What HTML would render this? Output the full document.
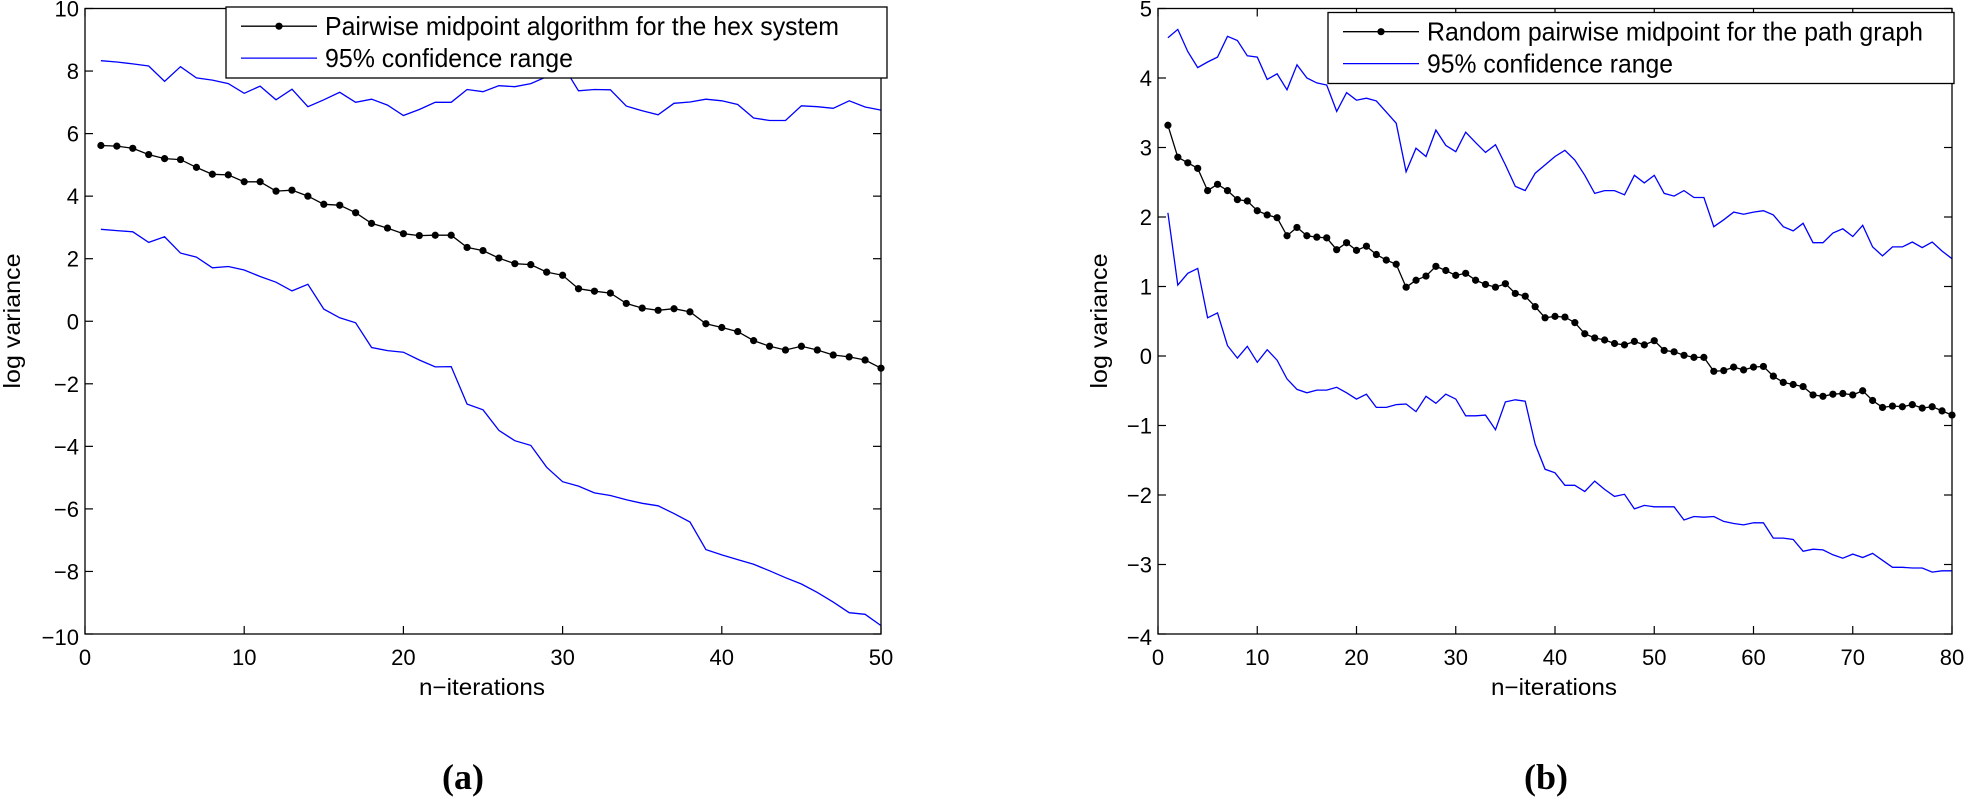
<!DOCTYPE html>
<html><head><meta charset="utf-8"><style>
html,body{margin:0;padding:0;background:#fff;}
svg{display:block;}
text{font-family:"Liberation Sans",sans-serif;fill:#000;}
</style></head><body>
<svg id="s" width="1965" height="801" xmlns="http://www.w3.org/2000/svg">
<rect width="1965" height="801" fill="#fff"/>
<g id="g"></g>
<text x="482" y="695" font-size="23" text-anchor="middle" textLength="126" lengthAdjust="spacingAndGlyphs">n−iterations</text>
<text x="1554" y="695" font-size="23" text-anchor="middle" textLength="126" lengthAdjust="spacingAndGlyphs">n−iterations</text>
<text transform="translate(20,321) rotate(-90)" font-size="23" text-anchor="middle" textLength="135" lengthAdjust="spacingAndGlyphs">log variance</text>
<text transform="translate(1107,321) rotate(-90)" font-size="23" text-anchor="middle" textLength="135" lengthAdjust="spacingAndGlyphs">log variance</text>
<text x="463" y="789" font-size="36" font-weight="bold" text-anchor="middle" style="font-family:'Liberation Serif',serif">(a)</text>
<text x="1546" y="789" font-size="36" font-weight="bold" text-anchor="middle" style="font-family:'Liberation Serif',serif">(b)</text>
</svg>
<script>
var NS="http://www.w3.org/2000/svg",G=document.getElementById("g");
function el(t,a,txt){var e=document.createElementNS(NS,t);for(var k in a)e.setAttribute(k,a[k]);if(txt!=null)e.textContent=txt;G.appendChild(e);return e;}
function plot(cfg){
 var X=function(n){return cfg.x0+(n-cfg.xmin)*(cfg.x1-cfg.x0)/(cfg.xmax-cfg.xmin);};
 var Y=function(v){return cfg.yb-(v-cfg.ymin)*(cfg.yb-cfg.yt)/(cfg.ymax-cfg.ymin);};
 function line(d,col){var p=d.map(function(v,i){return X(i+1).toFixed(1)+","+Y(v).toFixed(1);}).join(" ");
  el("polyline",{points:p,fill:"none",stroke:col,"stroke-width":1.3,"stroke-linejoin":"miter"});}
 line(cfg.up,"#0000ff");line(cfg.lo,"#0000ff");line(cfg.mid,"#000");
 cfg.mid.forEach(function(v,i){el("circle",{cx:X(i+1),cy:Y(v),r:3.6,fill:"#000"});});
 el("rect",{x:cfg.x0,y:cfg.yt,width:cfg.x1-cfg.x0,height:cfg.yb-cfg.yt,fill:"none",stroke:"#000","stroke-width":1.3});
 for(var t=cfg.xmin;t<=cfg.xmax;t+=cfg.xs){var x=X(t);
  el("line",{x1:x,y1:cfg.yb,x2:x,y2:cfg.yb-8,stroke:"#000","stroke-width":1.2});
  el("line",{x1:x,y1:cfg.yt,x2:x,y2:cfg.yt+8,stroke:"#000","stroke-width":1.2});
  el("text",{x:x,y:cfg.yb+31,"font-size":22,"text-anchor":"middle"},String(t));}
 for(var v=cfg.ymin;v<=cfg.ymax;v+=cfg.ys){var y=Y(v);
  el("line",{x1:cfg.x0,y1:y,x2:cfg.x0+8,y2:y,stroke:"#000","stroke-width":1.2});
  el("line",{x1:cfg.x1,y1:y,x2:cfg.x1-8,y2:y,stroke:"#000","stroke-width":1.2});
  el("text",{x:cfg.x0-6,y:y+(v==cfg.ymin?11:8),"font-size":22,"text-anchor":"end"},(v<0?"−":"")+Math.abs(v));}
 var L=cfg.leg;
 el("rect",{x:L.x,y:L.y,width:L.w,height:L.h,fill:"#fff",stroke:"#000","stroke-width":1.3});
 var r1=L.y+L.h*0.27,r2=L.y+L.h*0.72;
 el("line",{x1:L.lx0,y1:r1,x2:L.lx1,y2:r1,stroke:"#000","stroke-width":1.3});
 el("circle",{cx:(L.lx0+L.lx1)/2,cy:r1,r:3.6,fill:"#000"});
 el("line",{x1:L.lx0,y1:r2,x2:L.lx1,y2:r2,stroke:"#0000ff","stroke-width":1.3});
 el("text",{x:L.tx,y:r1+9,"font-size":26,textLength:L.tl,lengthAdjust:"spacingAndGlyphs"},L.t1);
 el("text",{x:L.tx,y:r2+9,"font-size":26,textLength:L.tl2,lengthAdjust:"spacingAndGlyphs"},"95% confidence range");
}
plot({x0:85,x1:881,xmin:0,xmax:50,xs:10,yt:8.5,yb:634,ymin:-10,ymax:10,ys:2,
 mid:[5.62,5.6,5.53,5.33,5.2,5.17,4.92,4.7,4.68,4.46,4.46,4.16,4.19,4.0,3.74,3.71,3.47,3.13,2.98,2.8,2.74,2.75,2.75,2.36,2.26,2.02,1.84,1.81,1.57,1.47,1.04,0.96,0.9,0.57,0.42,0.35,0.40,0.3,-0.08,-0.2,-0.33,-0.62,-0.8,-0.92,-0.8,-0.92,-1.08,-1.14,-1.24,-1.5],
 up:[8.33,8.29,8.23,8.16,7.67,8.14,7.78,7.71,7.6,7.29,7.52,7.08,7.42,6.86,7.08,7.32,7.0,7.1,6.91,6.58,6.77,7.0,7.0,7.41,7.34,7.53,7.5,7.6,7.82,8.2,7.37,7.41,7.4,6.88,6.73,6.6,6.97,7.01,7.1,7.05,6.93,6.5,6.42,6.42,6.89,6.86,6.81,7.05,6.85,6.75],
 lo:[2.94,2.9,2.86,2.52,2.7,2.18,2.05,1.71,1.75,1.64,1.43,1.25,0.97,1.18,0.39,0.11,-0.05,-0.84,-0.94,-0.99,-1.24,-1.46,-1.45,-2.65,-2.83,-3.49,-3.82,-3.97,-4.67,-5.13,-5.27,-5.49,-5.57,-5.71,-5.82,-5.9,-6.15,-6.42,-7.3,-7.47,-7.62,-7.77,-7.98,-8.2,-8.4,-8.67,-8.98,-9.32,-9.37,-9.73],
 leg:{x:226,y:7,w:661,h:71,lx0:241,lx1:317,tx:325,tl:514,tl2:248,t1:"Pairwise midpoint algorithm for the hex system"}});
plot({x0:1158,x1:1952,xmin:0,xmax:80,xs:10,yt:8.5,yb:634,ymin:-4,ymax:5,ys:1,
 mid:[3.32,2.86,2.78,2.70,2.38,2.47,2.38,2.25,2.23,2.09,2.03,1.99,1.73,1.85,1.73,1.71,1.70,1.53,1.63,1.52,1.58,1.46,1.38,1.32,0.99,1.09,1.15,1.29,1.23,1.16,1.19,1.09,1.03,0.99,1.04,0.90,0.86,0.71,0.55,0.57,0.56,0.48,0.32,0.26,0.23,0.18,0.16,0.21,0.16,0.22,0.08,0.06,0.01,-0.02,-0.02,-0.22,-0.21,-0.16,-0.20,-0.16,-0.15,-0.29,-0.38,-0.41,-0.44,-0.56,-0.58,-0.55,-0.54,-0.56,-0.50,-0.64,-0.74,-0.72,-0.73,-0.70,-0.75,-0.73,-0.79,-0.85],
 up:[4.58,4.70,4.38,4.15,4.23,4.30,4.60,4.54,4.32,4.30,3.98,4.06,3.83,4.19,4.0,3.93,3.90,3.52,3.79,3.68,3.71,3.67,3.51,3.35,2.65,2.99,2.87,3.25,3.03,2.94,3.22,3.07,2.93,3.04,2.75,2.44,2.38,2.63,2.75,2.87,2.96,2.82,2.60,2.34,2.38,2.38,2.32,2.60,2.49,2.60,2.34,2.30,2.38,2.28,2.28,1.86,1.96,2.07,2.04,2.07,2.09,2.03,1.86,1.80,1.91,1.63,1.63,1.77,1.83,1.72,1.88,1.57,1.44,1.57,1.57,1.64,1.56,1.64,1.51,1.40],
 lo:[2.06,1.02,1.19,1.26,0.55,0.62,0.15,-0.03,0.14,-0.09,0.09,-0.06,-0.33,-0.48,-0.53,-0.49,-0.49,-0.45,-0.53,-0.62,-0.55,-0.74,-0.74,-0.70,-0.69,-0.80,-0.58,-0.68,-0.55,-0.62,-0.86,-0.86,-0.85,-1.06,-0.66,-0.63,-0.65,-1.27,-1.63,-1.68,-1.86,-1.86,-1.95,-1.80,-1.92,-2.02,-1.99,-2.20,-2.15,-2.17,-2.17,-2.17,-2.36,-2.31,-2.32,-2.31,-2.38,-2.41,-2.43,-2.40,-2.40,-2.62,-2.62,-2.64,-2.81,-2.78,-2.79,-2.86,-2.91,-2.85,-2.90,-2.84,-2.94,-3.04,-3.04,-3.05,-3.05,-3.11,-3.09,-3.09],
 leg:{x:1328,y:12.5,w:626,h:71,lx0:1343,lx1:1419,tx:1427,tl:496,tl2:246,t1:"Random pairwise midpoint for the path graph"}});
</script>
</body></html>
